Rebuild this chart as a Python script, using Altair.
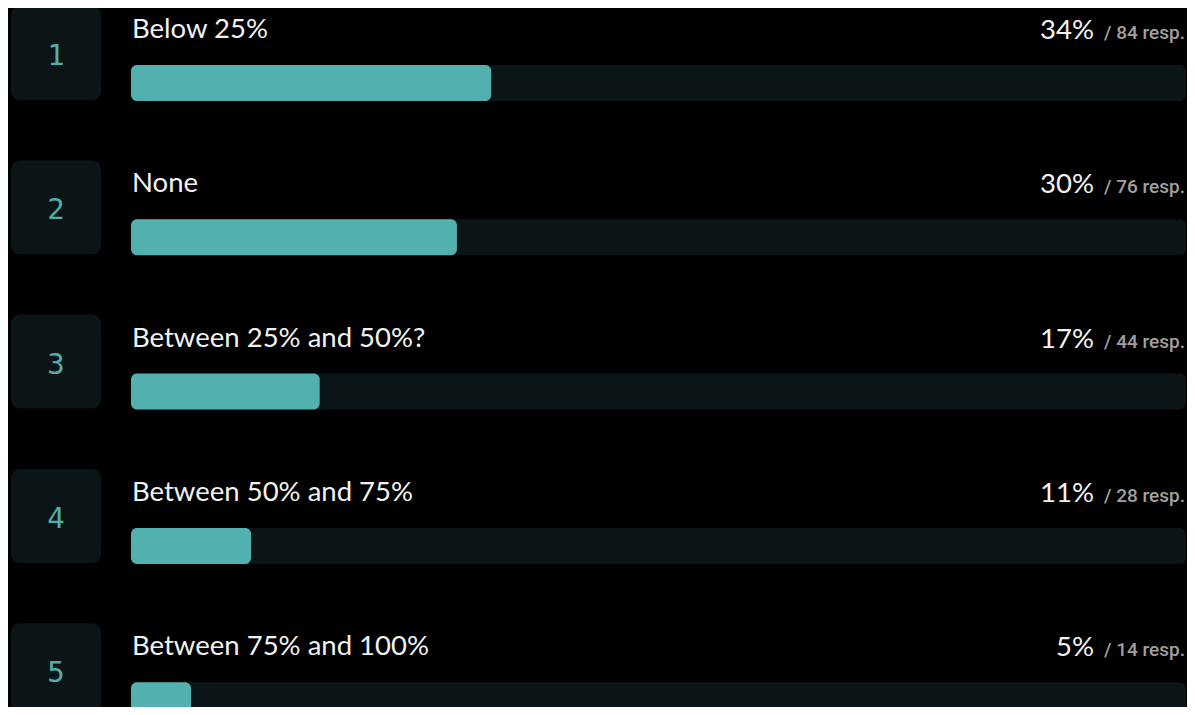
import altair as alt
import pandas as pd

ranks = [1, 2, 3, 4, 5]
labels = ["Below 25%", "None", "Between 25% and 50%?", "Between 50% and 75%", "Between 75% and 100%"]
pct_labels = ["34%", "30%", "17%", "11%", "5%"]
counts = [84, 76, 44, 28, 14]

total = sum(counts)

df = pd.DataFrame({
    "row": [r - 1 for r in ranks],
    "rank": [str(r) for r in ranks],
    "label": labels,
    "pct": pct_labels,
    "resp": [f"/ {c} resp." for c in counts],
    "count": counts,
})

BG = "#000000"
PANEL = "#0b1416"
TEAL = "#52b1ae"

yscale = alt.Scale(domain=[0, 5], range=[0, 771.5])
xscale = alt.Scale(domain=[0, total], range=[123, 1178])
Y = alt.Y("row:Q", scale=yscale, axis=None)

base = alt.Chart(df)

box = base.mark_rect(color=PANEL, cornerRadius=9, yOffset=-2, y2Offset=92).encode(
    x=alt.value(3), x2=alt.value(93), y=Y, y2="row:Q"
)
num = base.mark_text(color="#4fafab", font="DejaVu Sans Mono", fontSize=29, align="center",
                     baseline="alphabetic", yOffset=57).encode(x=alt.value(48), y=Y, text="rank:N")
track = base.mark_rect(color=PANEL, cornerRadius=6, yOffset=57, y2Offset=93).encode(
    x=alt.X("zero:Q", scale=xscale, axis=None), x2="total:Q", y=Y, y2="row:Q"
).transform_calculate(zero="0", total=str(total))
bar = base.mark_rect(color=TEAL, cornerRadius=6, yOffset=57, y2Offset=93).encode(
    x=alt.X("count:Q", scale=xscale, axis=None), x2="zero:Q", y=Y, y2="row:Q"
).transform_calculate(zero="0")
lab = base.mark_text(color="#f2f2f2", font="Lato", fontSize=27.5, align="left", baseline="alphabetic",
                     yOffset=30).encode(x=alt.value(124), y=Y, text="label:N")
pct = base.mark_text(color="#f2f2f2", font="Lato", fontSize=27.5, align="right", baseline="alphabetic",
                     yOffset=31).encode(x=alt.value(1086), y=Y, text="pct:N")
resp = base.mark_text(color="#a0a0a0", font="Roboto", fontSize=19, fontWeight=500, align="right",
                      baseline="alphabetic", yOffset=31).encode(x=alt.value(1177), y=Y, text="resp:N")

chart = alt.layer(box, num, track, bar, lab, pct, resp).properties(
    width=1179, height=699, background=BG, padding=0, autosize=alt.AutoSizeParams(type="none")
).configure_view(stroke=None)

chart.save("out.html", embed_options={"renderer": "svg", "actions": False})
